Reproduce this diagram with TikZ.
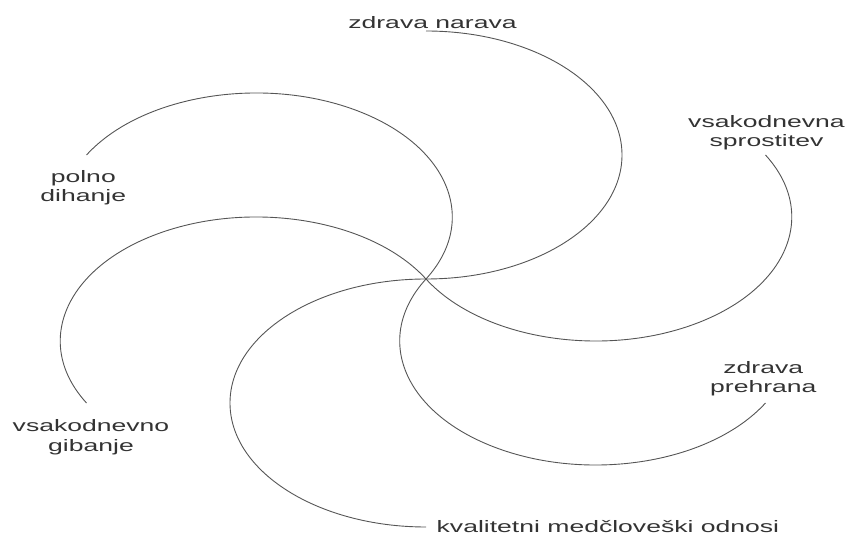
\documentclass[tikz,border=0pt]{standalone}
\usepackage{fontspec}
\setmainfont{Liberation Sans}
\definecolor{arcgray}{HTML}{555555}
\definecolor{txtgray}{HTML}{333333}
\tikzset{
  petal/.style={draw=arcgray, line width=0.9pt},
  lbl/.style={text=txtgray, inner sep=0pt, outer sep=0pt, xscale=1.6, align=center,
    font=\fontsize{16.6pt}{19.4pt}\selectfont},
}
\begin{document}
\begin{tikzpicture}[x=1pt,y=1pt]
\useasboundingbox (0,0) rectangle (847,535);
\coordinate (O) at (426,256);
% six semicircular (elliptical) arcs leaving the centre
\draw[petal] (O) arc[start angle=-90, end angle=90,  x radius=196pt, y radius=124pt];
\draw[petal] (O) arc[start angle=210, end angle=390, x radius=196pt, y radius=124pt];
\draw[petal] (O) arc[start angle=150, end angle=330, x radius=196pt, y radius=124pt];
\draw[petal] (O) arc[start angle=90,  end angle=270, x radius=196pt, y radius=124pt];
\draw[petal] (O) arc[start angle=30,  end angle=210, x radius=196pt, y radius=124pt];
\draw[petal] (O) arc[start angle=-30, end angle=150, x radius=196pt, y radius=124pt];
% labels
\node[lbl, anchor=base] (narava) at (432.5,506.7) {zdrava narava};
\node[lbl] (sprostitev) at (766.5,402.2) {vsakodnevna\\sprostitev};
\node[lbl] (prehrana) at (763.3,156.2) {zdrava\\prehrana};
\node[lbl, anchor=base west] (odnosi) at (436.7,2.2) {kvalitetni medčloveški odnosi};
\node[lbl] (gibanje) at (91,97.8) {vsakodnevno\\gibanje};
\node[lbl] (dihanje) at (83.3,347.2) {polno\\dihanje};
\end{tikzpicture}
\end{document}
